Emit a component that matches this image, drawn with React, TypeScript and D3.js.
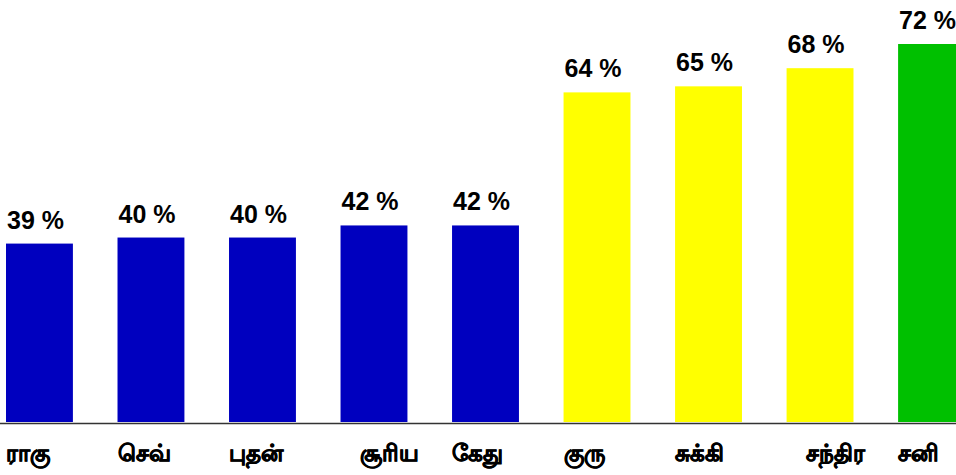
import React from "react";
import * as d3 from "d3";

const categories = ["ராகு", "செவ்", "புதன்", "\u00a0\u00a0\u00a0சூரிய", "கேது", "குரு", "சுக்கி", "\u00a0\u00a0\u00a0சந்திர", "சனி"];
const values = [39, 40, 40, 42, 42, 64, 65, 68, 72];
const colors = ["#0000BF", "#0000BF", "#0000BF", "#0000BF", "#0000BF", "#FFFF00", "#FFFF00", "#FFFF00", "#00C000"];

const W = 956;
const H = 475;

export default function App() {
  const x = d3
    .scaleBand<number>()
    .domain(d3.range(categories.length))
    .range([6, 965])
    .paddingInner(0.4)
    .paddingOuter(0);
  const y = d3.scaleLinear().domain([9.5, 72]).range([422, 44]);
  const font = "'Liberation Sans', Arial, sans-serif";

  return (
    <svg
      width={W}
      height={H}
      style={{ position: "absolute", left: 0, top: 0, background: "#fff" }}
    >
      {values.map((v, i) => (
        <g key={i}>
          <rect
            x={x(i)}
            y={y(v)}
            width={x.bandwidth()}
            height={y(9.5) - y(v)}
            fill={colors[i]}
          />
          <text
            x={(x(i) as number) + 1}
            y={y(v) - 15}
            fontFamily={font}
            fontWeight="bold"
            fontSize={25}
            fill="#000"
          >
            {v} %
          </text>
          <text
            x={(x(i) as number)}
            y={461}
            fontFamily={font}
            fontWeight="bold"
            fontSize={23}
            fill="#000"
            stroke="#000"
            strokeWidth={0.7}
            style={{ whiteSpace: "pre" }}
          >
            {categories[i]}
          </text>
        </g>
      ))}
      <line x1={0} x2={W} y1={423.5} y2={423.5} stroke="#333" strokeWidth={1.5} />
    </svg>
  );
}
